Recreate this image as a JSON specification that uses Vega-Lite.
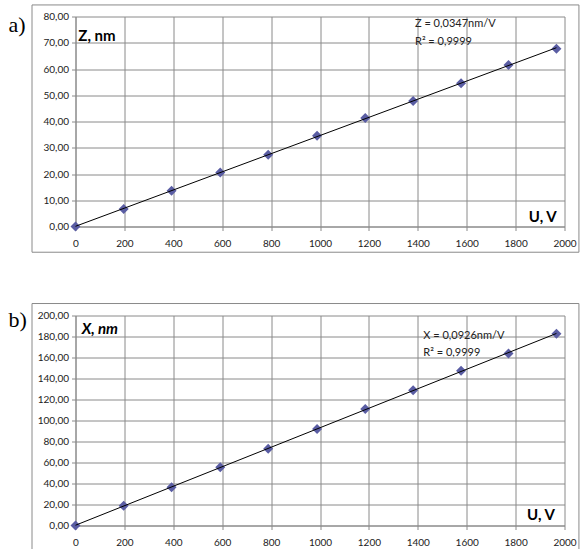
{
  "$schema": "https://vega.github.io/schema/vega-lite/v6.json",
  "padding": {"left": 8.5, "top": 3.5, "right": 0, "bottom": 0},
  "background": "white",
  "columns": 1,
  "align": "none",
  "spacing": 49,
  "config": {
    "locale": {"number": {"decimal": ",", "thousands": "", "grouping": [3], "currency": ["", ""]}},
    "view": {"stroke": null},
    "font": "Lato",
    "axis": {
      "labelFont": "Lato",
      "labelFontSize": 10,
      "labelColor": "#222222",
      "gridColor": "#8a8a8a",
      "gridWidth": 1,
      "gridOpacity": 1,
      "domainColor": "#8a8a8a",
      "tickColor": "#8a8a8a",
      "tickSize": 4
    },
    "axisX": {"labelPadding": 8, "labelFlush": false, "labelOverlap": false, "tickCount": 20},
    "axisY": {"labelPadding": 3, "labelFlush": false, "labelOverlap": false, "tickCount": 20}
  },
  "concat": [
    {
      "width": 489,
      "height": 210,
      "data": {"values": [
        {"u": 0, "z": 0}, {"u": 197, "z": 6.7}, {"u": 393, "z": 13.6}, {"u": 592, "z": 20.6},
        {"u": 788, "z": 27.3}, {"u": 988, "z": 34.6}, {"u": 1185, "z": 41.3}, {"u": 1381, "z": 47.8},
        {"u": 1577, "z": 54.6}, {"u": 1771, "z": 61.5}, {"u": 1967, "z": 67.7}
      ]},
      "layer": [
        {
          "mark": {"type": "point", "shape": "diamond", "filled": true, "size": 100, "color": "#5a5da3", "opacity": 1},
          "encoding": {
            "x": {"field": "u", "type": "quantitative", "scale": {"domain": [0, 2000], "nice": false},
              "axis": {"title": null, "values": [0, 200, 400, 600, 800, 1000, 1200, 1400, 1600, 1800, 2000], "format": "d", "tickCount": 20}},
            "y": {"field": "z", "type": "quantitative", "scale": {"domain": [0, 80], "nice": false},
              "axis": {"title": null, "values": [0, 10, 20, 30, 40, 50, 60, 70, 80], "format": ".2f", "tickCount": 20}}
          }
        },
        {
          "transform": [{"regression": "z", "on": "u"}],
          "mark": {"type": "line", "color": "#000000", "strokeWidth": 1},
          "encoding": {
            "x": {"field": "u", "type": "quantitative"},
            "y": {"field": "z", "type": "quantitative"}
          }
        },
        {
          "data": {"values": [{"k": 1}]},
          "mark": {"type": "rect", "fillOpacity": 0, "stroke": "#8a8a8a", "strokeWidth": 1},
          "encoding": {
            "x": {"datum": -177.9, "type": "quantitative"},
            "x2": {"datum": 2059},
            "y": {"datum": 84.4, "type": "quantitative"},
            "y2": {"datum": -9.8}
          }
        },
        {
          "data": {"values": [{"t": "a)", "px": -274, "py": 76.6}]},
          "mark": {"type": "text", "baseline": "middle", "color": "#000000", "font": "Liberation Serif", "fontSize": 22, "align": "left"},
          "encoding": {
            "x": {"field": "px", "type": "quantitative"},
            "y": {"field": "py", "type": "quantitative"},
            "text": {"field": "t"}
          }
        },
        {
          "data": {"values": [{"t": "Z, nm", "px": 11.5, "py": 72.7}]},
          "mark": {"type": "text", "font": "Lato", "fontSize": 15, "fontWeight": "bold", "align": "left", "baseline": "middle", "color": "#000000"},
          "encoding": {
            "x": {"field": "px", "type": "quantitative"},
            "y": {"field": "py", "type": "quantitative"},
            "text": {"field": "t"}
          }
        },
        {
          "data": {"values": [{"t": "U, V", "px": 1968, "py": 3.7}]},
          "mark": {"type": "text", "font": "Lato", "fontSize": 15, "fontWeight": "bold", "align": "right", "baseline": "middle", "color": "#000000"},
          "encoding": {
            "x": {"field": "px", "type": "quantitative"},
            "y": {"field": "py", "type": "quantitative"},
            "text": {"field": "t"}
          }
        },
        {
          "data": {"values": [{"t": "Z = 0,0347nm/V", "px": 1388.5, "py": 77.3}, {"t": "R² = 0,9999", "px": 1388.5, "py": 70.1}]},
          "mark": {"type": "text", "font": "Lato", "fontSize": 11, "align": "left", "baseline": "middle", "color": "#222222"},
          "encoding": {
            "x": {"field": "px", "type": "quantitative"},
            "y": {"field": "py", "type": "quantitative"},
            "text": {"field": "t"}
          }
        }
      ]
    },
    {
      "width": 489,
      "height": 210,
      "data": {"values": [
        {"u": 0, "x": 0}, {"u": 197, "x": 18.7}, {"u": 393, "x": 36.4}, {"u": 592, "x": 55.4},
        {"u": 788, "x": 73.2}, {"u": 988, "x": 92.0}, {"u": 1185, "x": 110.9}, {"u": 1381, "x": 128.7},
        {"u": 1577, "x": 147.4}, {"u": 1771, "x": 163.9}, {"u": 1967, "x": 182.6}
      ]},
      "layer": [
        {
          "mark": {"type": "point", "shape": "diamond", "filled": true, "size": 100, "color": "#5a5da3", "opacity": 1},
          "encoding": {
            "x": {"field": "u", "type": "quantitative", "scale": {"domain": [0, 2000], "nice": false},
              "axis": {"title": null, "values": [0, 200, 400, 600, 800, 1000, 1200, 1400, 1600, 1800, 2000], "format": "d", "tickCount": 20}},
            "y": {"field": "x", "type": "quantitative", "scale": {"domain": [0, 200], "nice": false},
              "axis": {"title": null, "values": [0, 20, 40, 60, 80, 100, 120, 140, 160, 180, 200], "format": ".2f", "tickCount": 20}}
          }
        },
        {
          "transform": [{"regression": "x", "on": "u"}],
          "mark": {"type": "line", "color": "#000000", "strokeWidth": 1},
          "encoding": {
            "x": {"field": "u", "type": "quantitative"},
            "y": {"field": "x", "type": "quantitative"}
          }
        },
        {
          "data": {"values": [{"k": 1}]},
          "mark": {"type": "rect", "fillOpacity": 0, "stroke": "#8a8a8a", "strokeWidth": 1},
          "encoding": {
            "x": {"datum": -177.9, "type": "quantitative"},
            "x2": {"datum": 2059},
            "y": {"datum": 211.4, "type": "quantitative"},
            "y2": {"datum": -25.7}
          }
        },
        {
          "data": {"values": [{"t": "b)", "px": -274, "py": 196}]},
          "mark": {"type": "text", "font": "Liberation Serif", "fontSize": 22, "align": "left", "baseline": "middle", "color": "#000000"},
          "encoding": {
            "x": {"field": "px", "type": "quantitative"},
            "y": {"field": "py", "type": "quantitative"},
            "text": {"field": "t"}
          }
        },
        {
          "data": {"values": [{"t": "X, nm", "px": 25.4, "py": 187.6}]},
          "mark": {"type": "text", "font": "Lato", "fontSize": 15, "fontWeight": "bold", "fontStyle": "italic", "align": "left", "baseline": "middle", "color": "#000000"},
          "encoding": {
            "x": {"field": "px", "type": "quantitative"},
            "y": {"field": "py", "type": "quantitative"},
            "text": {"field": "t"}
          }
        },
        {
          "data": {"values": [{"t": "U, V", "px": 1961, "py": 10.2}]},
          "mark": {"type": "text", "font": "Lato", "fontSize": 15, "fontWeight": "bold", "align": "right", "baseline": "middle", "color": "#000000"},
          "encoding": {
            "x": {"field": "px", "type": "quantitative"},
            "y": {"field": "py", "type": "quantitative"},
            "text": {"field": "t"}
          }
        },
        {
          "data": {"values": [{"t": "X = 0,0926nm/V", "px": 1422.5, "py": 180.7}, {"t": "R² = 0,9999", "px": 1422.5, "py": 163.9}]},
          "mark": {"type": "text", "font": "Lato", "fontSize": 11, "align": "left", "baseline": "middle", "color": "#222222"},
          "encoding": {
            "x": {"field": "px", "type": "quantitative"},
            "y": {"field": "py", "type": "quantitative"},
            "text": {"field": "t"}
          }
        }
      ]
    }
  ]
}
